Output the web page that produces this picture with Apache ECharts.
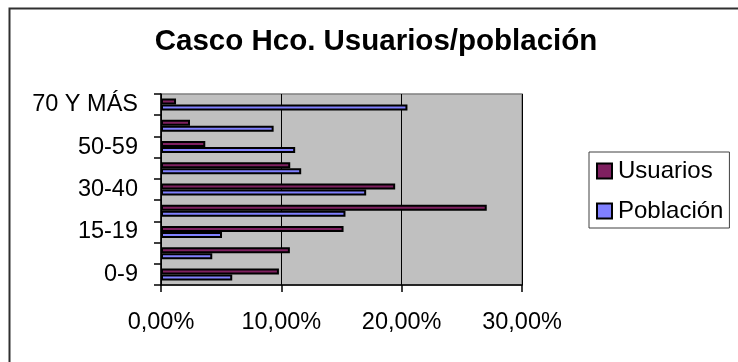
<!DOCTYPE html>
<html>
<head>
<meta charset="utf-8">
<style>
  html, body { margin: 0; padding: 0; background: #ffffff; }
  #chart { width: 738px; height: 362px; }
</style>
<script src="https://cdn.jsdelivr.net/npm/echarts@6/dist/echarts.min.js"></script>
</head>
<body>
<div id="chart"></div>
<script>
// Age groups, bottom to top
const ageGroups = ['0-9', '10-14', '15-19', '20-29', '30-40', '41-49', '50-59', '60-69', '70 Y MÁS'];
// Share of service users per age group (%)
const usuarios = [9.80, 10.71, 15.17, 27.07, 19.46, 10.74, 3.68, 2.41, 1.25];
// Share of resident population per age group (%)
const poblacion = [5.92, 4.26, 5.07, 15.33, 17.05, 11.65, 11.15, 9.36, 20.48];
const seriesNames = ['Usuarios', 'Población'];
const xTicks = [0, 10, 20, 30];

const FONT = '"Liberation Sans", Arial, sans-serif';
const chart = echarts.init(document.getElementById('chart'), null, { renderer: 'canvas' });

const barStyle = (color) => ({ color: color, borderColor: '#000000', borderWidth: 2 });

chart.setOption({
  backgroundColor: '#ffffff',
  animation: false,
  title: {
    text: 'Casco Hco. Usuarios/población',
    left: 371,
    textAlign: 'center',
    top: 22,
    textStyle: { fontFamily: FONT, fontSize: 29.5, fontWeight: 'bold', color: '#000000' }
  },
  legend: {
    data: seriesNames,
    orient: 'vertical',
    left: 589,
    top: 152,
    padding: [7, 6, 5, 7],
    itemGap: 16,
    itemWidth: 15,
    itemHeight: 15,
    icon: 'rect',
    borderColor: '#404040',
    borderWidth: 1,
    backgroundColor: '#ffffff',
    itemStyle: { borderColor: '#000000', borderWidth: 2 },
    textStyle: { fontFamily: FONT, fontSize: 24, color: '#000000', padding: [0, 0, 0, 1] }
  },
  grid: {
    left: 161,
    top: 94,
    width: 361,
    height: 191,
    show: true,
    backgroundColor: '#C0C0C0',
    borderColor: '#808080',
    borderWidth: 1.5,
    containLabel: false
  },
  xAxis: {
    type: 'value',
    min: xTicks[0],
    max: xTicks[xTicks.length - 1],
    interval: 10,
    axisLine: { show: true, lineStyle: { color: '#000000', width: 1.5 } },
    axisTick: { show: true, length: 7, inside: false, lineStyle: { color: '#000000', width: 1.5 } },
    splitLine: { show: true, lineStyle: { color: '#000000', width: 1 } },
    axisLabel: {
      margin: 26,
      fontFamily: FONT,
      fontSize: 23.5,
      color: '#000000',
      formatter: (v) => v.toFixed(2).replace('.', ',') + '%'
    }
  },
  yAxis: {
    type: 'category',
    data: ageGroups,
    axisLine: { show: true, lineStyle: { color: '#000000', width: 1.5 } },
    axisTick: { show: true, length: 7, interval: 0, alignWithLabel: false, lineStyle: { color: '#000000', width: 1.5 } },
    splitLine: { show: false },
    axisLabel: {
      interval: 1,
      margin: 23,
      fontFamily: FONT,
      fontSize: 23.5,
      color: '#000000'
    }
  },
  series: [
    {
      name: seriesNames[0],
      type: 'bar',
      data: usuarios,
      barWidth: 6,
      barGap: '0%',
      itemStyle: barStyle('#7F2060')
    },
    {
      name: seriesNames[1],
      type: 'bar',
      data: poblacion,
      barWidth: 6,
      barGap: '0%',
      itemStyle: barStyle('#8080FF')
    }
  ],
  graphic: [
    {
      type: 'rect',
      left: 7,
      top: 6,
      shape: { width: 800, height: 400 },
      style: { fill: null, stroke: '#303030', lineWidth: 2 },
      silent: true,
      z: 100
    }
  ]
});
</script>
</body>
</html>
